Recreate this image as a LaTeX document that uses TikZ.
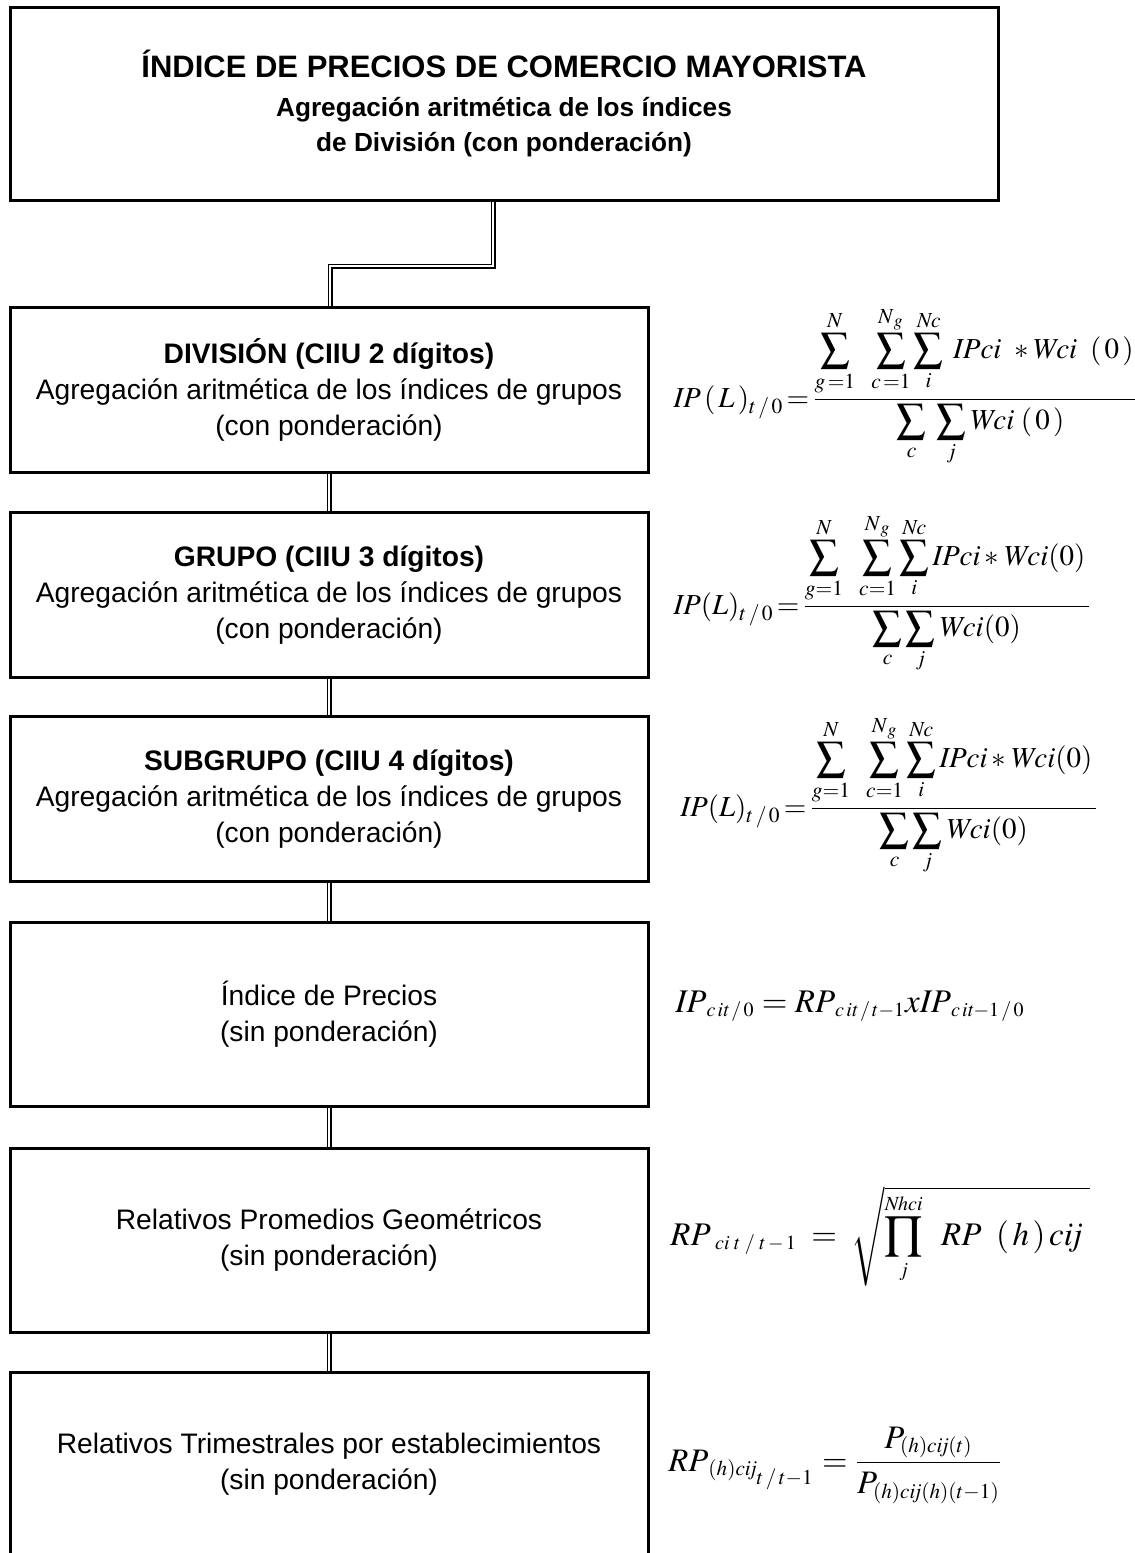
\documentclass[tikz,border=0pt]{standalone}
\usepackage{amsmath}
\usepackage{mathptmx}
\usepackage[no-math]{fontspec}
\setmainfont{Liberation Sans}
\DeclareMathSizes{16.5}{16.5}{10}{7}
\DeclareMathSizes{16.4}{16.4}{10.6}{7.5}

\begin{document}
\begin{tikzpicture}[x=0.5pt, y=-0.5pt,
  box/.style={draw, line width=1.5pt, inner sep=0pt, align=center,
    minimum width=319pt, minimum height=82.5pt,
    font=\fontsize{14.1}{18}\selectfont},
  tallbox/.style={box, minimum height=92pt},
  link/.style={double, line width=0.8pt, double distance=0.9pt},
  formula/.style={anchor=base west, inner sep=0pt,
    font=\fontsize{14.5}{18}\selectfont},
  bigformula/.style={formula, font=\fontsize{16.5}{20}\selectfont}]
  \useasboundingbox (0,0) rectangle (1135,1553);

  \node[box, minimum width=494pt, minimum height=96.5pt,
        font=\bfseries\fontsize{13.1}{17.5}\selectfont] (ipcm) at (504,103.5)
    {{\fontsize{15.5}{17.5}\selectfont ÍNDICE DE PRECIOS DE COMERCIO MAYORISTA}\\[2pt]
     Agregación aritmética de los índices\\
     de División (con ponderación)};
  \node[box] (div) at (329,389.5)
    {{\bfseries DIVISIÓN (CIIU 2 dígitos)}\\
     Agregación aritmética de los índices de grupos\\
     (con ponderación)};
  \node[box] (grp) at (329,595)
    {{\bfseries GRUPO (CIIU 3 dígitos)}\\
     Agregación aritmética de los índices de grupos\\
     (con ponderación)};
  \node[box] (subgrp) at (329,799)
    {{\bfseries SUBGRUPO (CIIU 4 dígitos)}\\
     Agregación aritmética de los índices de grupos\\
     (con ponderación)};
  \node[tallbox] (indice) at (329,1014)
    {Índice de Precios\\ (sin ponderación)};
  \node[tallbox] (geom) at (329,1240)
    {Relativos Promedios Geométricos\\ (sin ponderación)};
  \node[tallbox] (trim) at (329,1464)
    {Relativos Trimestrales por establecimientos\\ (sin ponderación)};

  % formulas
  \node[formula] (fdiv) at (673,407)
    {$\mathit{IP}\,(\,L\,)_{t\,/\,0}\,{=}\,\dfrac{\displaystyle\sum_{g\,=1}^{N}\;\;\sum_{c\,=1}^{N_{\,g}}\sum_{i}^{\mathit{Nc}}\;\mathit{IPci}\;\;{*}\,\mathit{Wci}\;\;(\,0\,)\;\;}{\displaystyle\sum_{c}\;\sum_{j}\mathit{Wci}\;(\,0\,)}$};
  \node[formula] (fgrp) at (673,614)
    {$\mathit{IP}(L)_{t\,/\,0}\,{=}\,\dfrac{\displaystyle\sum_{g=1}^{N}\;\;\sum_{c=1}^{N_{\,g}}\sum_{i}^{\mathit{Nc}} \mathit{IPci}*\mathit{Wci}(0)\,}{\displaystyle\sum_{c}\sum_{j} \mathit{Wci}(0)}$};
  \node[formula] (fsubgrp) at (680,816)
    {$\mathit{IP}(L)_{t\,/\,0}\,{=}\,\dfrac{\displaystyle\sum_{g=1}^{N}\;\;\sum_{c=1}^{N_{\,g}}\sum_{i}^{\mathit{Nc}} \mathit{IPci}*\mathit{Wci}(0)\,}{\displaystyle\sum_{c}\sum_{j} \mathit{Wci}(0)}$};
  \node[bigformula] (findice) at (675,1012)
    {$\mathit{IP}_{c\,\mathit{it}\,/\,0}=\mathit{RP}_{c\,\mathit{it}\,/\,t-1}\mathit{xIP}_{c\,\mathit{it}-1\,/\,0}$};
  \node[bigformula] (fgeom) at (670,1245)
    {$\mathit{RP}_{\;\mathit{ci}\;t\;/\;t\,{-}\,1}\;=\;\sqrt{\mathop{\vcenter{\hbox{\scalebox{1.4}{$\textstyle\prod$}}}}\limits_{j}^{\mathit{Nhci}}\;\;\mathit{RP}\;\;(\,h\,)\,\mathit{cij}\;}$};
  \node[formula, font=\fontsize{16.4}{20}\selectfont] (ftrim) at (668,1471)
    {$\mathit{RP}_{(h)\mathit{cij}_{\scriptstyle t\,/\,t-1}}=\dfrac{P_{(h)\mathit{cij}(t)}}{P_{(h)\mathit{cij}(h)(t-1)}}$};

  % connectors
  \coordinate (jogR) at (493,266);
  \coordinate (jogL) at (330,266);
  \draw[link] (ipcm.south -| jogR) -- (jogR) -- (jogL) -- (div.north -| jogL);
  \draw[link] (div) -- (grp);
  \draw[link] (grp) -- (subgrp);
  \draw[link] (subgrp) -- (indice);
  \draw[link] (indice) -- (geom);
  \draw[link] (geom) -- (trim);
\end{tikzpicture}
\end{document}
